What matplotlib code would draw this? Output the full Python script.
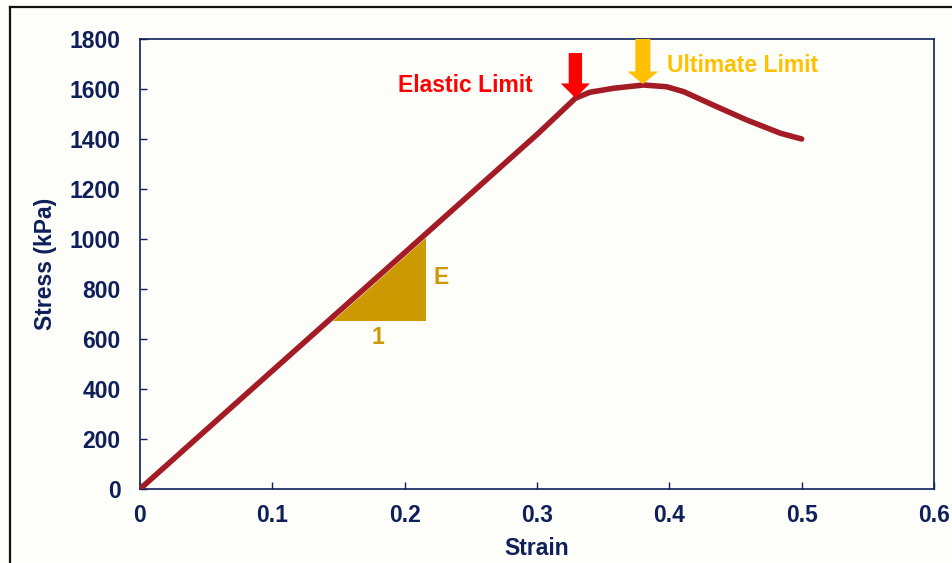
import matplotlib
matplotlib.use("Agg")
import matplotlib.pyplot as plt
from matplotlib.lines import Line2D
from matplotlib.patches import Polygon

plt.rcParams['font.family'] = ['Liberation Sans', 'DejaVu Sans']

# Data
strain = [0.0, 0.1, 0.2, 0.3, 0.329, 0.34, 0.358, 0.3805, 0.398, 0.411, 0.433, 0.4585, 0.484, 0.5]
stress = [0, 473, 945, 1418, 1563, 1587, 1603, 1616, 1609, 1589, 1536, 1476, 1423, 1400]

tri_x = [0.146, 0.216, 0.216]
tri_y = [672, 672, 1004]

xticks = [0, 0.1, 0.2, 0.3, 0.4, 0.5, 0.6]
xtick_labels = ['0', '0.1', '0.2', '0.3', '0.4', '0.5', '0.6']
yticks = [0, 200, 400, 600, 800, 1000, 1200, 1400, 1600, 1800]

elastic_x, elastic_tip, elastic_tail = 0.329, 1564, 1744
ultimate_x, ultimate_tip, ultimate_tail = 0.380, 1620, 1800

navy = '#0F1F5A'
bg = '#FDFDF9'
fs = 16.5

fig = plt.figure(figsize=(9.52, 5.63), dpi=100, facecolor=bg)
ax = fig.add_axes([140/952, 74/563, 794/952, 450/563], facecolor=bg)

ax.plot(strain, stress, color='#A31B24', lw=4.0, solid_joinstyle='round',
        solid_capstyle='round', zorder=3)

ax.add_patch(Polygon(list(zip(tri_x, tri_y)), closed=True, color='#CC9900',
                     lw=0, zorder=2))
ax.text(0.2275, 848, 'E', color='#CC9900', fontsize=fs, fontweight='bold',
        ha='center', va='center')
ax.text(0.18, 604, '1', color='#CC9900', fontsize=fs, fontweight='bold',
        ha='center', va='center')

ax.annotate('', xy=(elastic_x, elastic_tip), xytext=(elastic_x, elastic_tail),
            arrowprops=dict(facecolor='#FF0000', edgecolor='none', width=9.6,
                            headwidth=21, headlength=10.5, shrink=0), zorder=4)
ax.annotate('', xy=(ultimate_x, ultimate_tip), xytext=(ultimate_x, ultimate_tail),
            arrowprops=dict(facecolor='#FFC000', edgecolor='none', width=10.8,
                            headwidth=22, headlength=9, shrink=0), zorder=4,
            annotation_clip=False)

ax.text(0.297, 1616, 'Elastic Limit', color='#FF0000', fontsize=fs,
        fontweight='bold', ha='right', va='center')
ax.text(0.398, 1696, 'Ultimate Limit', color='#FFC000', fontsize=fs,
        fontweight='bold', ha='left', va='center')

ax.set_xlim(0, 0.6)
ax.set_ylim(0, 1800)
ax.set_xticks(xticks)
ax.set_xticklabels(xtick_labels)
ax.set_yticks(yticks)
ax.tick_params(direction='in', length=5, width=1, color=navy, labelcolor=navy,
               labelsize=fs)
ax.tick_params(axis='y', pad=14)
ax.tick_params(axis='x', pad=11)
for lab in ax.get_xticklabels() + ax.get_yticklabels():
    lab.set_fontweight('bold')
for s in ax.spines.values():
    s.set_color(navy)
    s.set_linewidth(1.2)

ax.set_xlabel('Strain', fontsize=fs, fontweight='bold', color=navy, labelpad=7)
ax.set_ylabel('Stress (kPa)', fontsize=fs, fontweight='bold', color=navy, labelpad=9)

# outer frame
fig.add_artist(Line2D([10/952, 10/952], [0, (563-7)/563], transform=fig.transFigure,
                      color='#111111', lw=1.6))
fig.add_artist(Line2D([10/952, 1], [(563-7)/563, (563-7)/563], transform=fig.transFigure,
                      color='#111111', lw=1.6))

fig.savefig('out.png', dpi=100, facecolor=bg)
